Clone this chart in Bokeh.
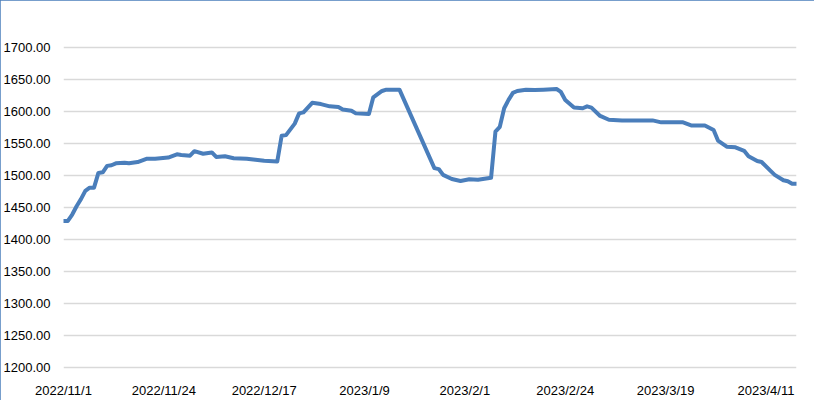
import pandas as pd
from bokeh.plotting import figure
from bokeh.models import FixedTicker, Range1d, NumeralTickFormatter
from bokeh.embed import file_html
from bokeh.resources import INLINE

dates = [
    "2022-11-01", "2022-11-02", "2022-11-03", "2022-11-04", "2022-11-05", "2022-11-06",
    "2022-11-07", "2022-11-08", "2022-11-09", "2022-11-10", "2022-11-11", "2022-11-12",
    "2022-11-13", "2022-11-15", "2022-11-16", "2022-11-18", "2022-11-20", "2022-11-22",
    "2022-11-25", "2022-11-27", "2022-11-28", "2022-11-30", "2022-12-01", "2022-12-03",
    "2022-12-05", "2022-12-06", "2022-12-08", "2022-12-10", "2022-12-13", "2022-12-15",
    "2022-12-17", "2022-12-20", "2022-12-21", "2022-12-22", "2022-12-24", "2022-12-25",
    "2022-12-26", "2022-12-28", "2022-12-30", "2023-01-01", "2023-01-03", "2023-01-04",
    "2023-01-06", "2023-01-07", "2023-01-10", "2023-01-11", "2023-01-13", "2023-01-14",
    "2023-01-17", "2023-01-25", "2023-01-26", "2023-01-27", "2023-01-29", "2023-01-31",
    "2023-02-02", "2023-02-04", "2023-02-07", "2023-02-08", "2023-02-09", "2023-02-10",
    "2023-02-11", "2023-02-12", "2023-02-13", "2023-02-15", "2023-02-17", "2023-02-19",
    "2023-02-22", "2023-02-23", "2023-02-24", "2023-02-26", "2023-02-28", "2023-03-01",
    "2023-03-02", "2023-03-04", "2023-03-06", "2023-03-09", "2023-03-16", "2023-03-18",
    "2023-03-23", "2023-03-25", "2023-03-28", "2023-03-30", "2023-03-31", "2023-04-02",
    "2023-04-04", "2023-04-06", "2023-04-07", "2023-04-09", "2023-04-10", "2023-04-12",
    "2023-04-13", "2023-04-15", "2023-04-16", "2023-04-17", "2023-04-18",
]
prices = [
    1429, 1429, 1439, 1452, 1463, 1476,
    1481, 1481, 1504, 1505, 1515, 1516,
    1519, 1520, 1519, 1521, 1526, 1526,
    1528, 1533, 1532, 1531, 1538, 1534,
    1536, 1529, 1530, 1527, 1526, 1524.5,
    1523, 1522, 1562, 1563, 1581, 1597,
    1598.5, 1613.5, 1611.5, 1608, 1607, 1603,
    1601, 1597, 1596, 1622, 1632, 1634,
    1634, 1511.5, 1510, 1501, 1494.5, 1491.5,
    1494, 1493.5, 1496.5, 1568.5, 1576, 1605,
    1618, 1629, 1632, 1634, 1633.5, 1634,
    1635, 1630.5, 1618, 1606, 1605, 1608,
    1606, 1593, 1587, 1586, 1586, 1583,
    1583, 1578, 1578, 1571, 1554.5, 1545,
    1544, 1538.5, 1530, 1522.5, 1521, 1507.5,
    1501, 1492.5, 1491, 1487, 1487,
]
tick_labels = ["2022/11/1", "2022/11/24", "2022/12/17", "2023/1/9",
               "2023/2/1", "2023/2/24", "2023/3/19", "2023/4/11"]
y_ticks = [1200, 1250, 1300, 1350, 1400, 1450, 1500, 1550, 1600, 1650, 1700]

start = pd.Timestamp(dates[0])
x = [(pd.Timestamp(d) - start).days for d in dates]
tick_x = [(pd.Timestamp(t) - start).days for t in tick_labels]

p = figure(width=814, height=400, output_backend="svg", toolbar_location=None,
           x_range=Range1d(0, 168), y_range=Range1d(1197, 1703),
           min_border_left=63, min_border_right=18, min_border_top=45, min_border_bottom=29,
           background_fill_color="white", border_fill_color="white")
p.outline_line_color = None
p.styles = {"outline": "2px solid #4a7ebb", "outline-offset": "-2px"}

p.line(x, prices, line_color="#4a7ebb", line_width=4, line_join="round", line_cap="round")

p.xaxis.ticker = FixedTicker(ticks=tick_x)
p.xaxis.major_label_overrides = {tx: lab for tx, lab in zip(tick_x, tick_labels)}
p.yaxis.ticker = FixedTicker(ticks=y_ticks)
p.yaxis.formatter = NumeralTickFormatter(format="0.00")

for ax in (p.xaxis, p.yaxis):
    ax.axis_line_color = None
    ax.major_tick_line_color = None
    ax.minor_tick_line_color = None
    ax.major_label_text_font = "Liberation Sans"
    ax.major_label_text_font_size = "13px"
    ax.major_label_text_color = "#000000"
p.xaxis.major_label_standoff = 7
p.yaxis.major_label_standoff = 7

p.xgrid.visible = False
p.ygrid.grid_line_color = "#d9d9d9"
p.ygrid.grid_line_width = 1.5

open("out.html", "w").write(file_html(p, INLINE))
